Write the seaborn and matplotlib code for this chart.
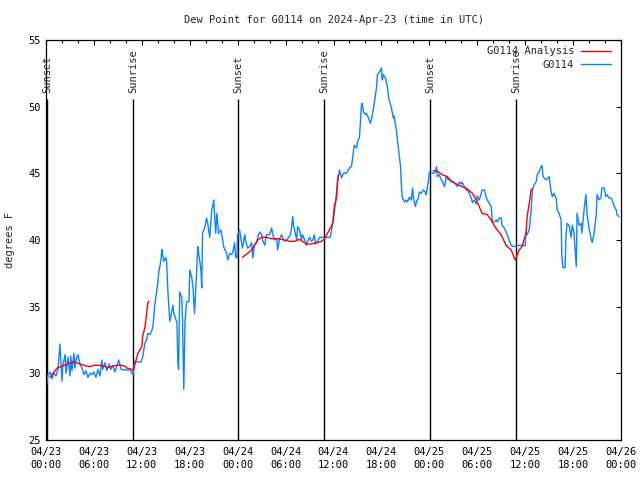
import matplotlib
matplotlib.use("Agg")
import matplotlib.pyplot as plt
import matplotlib.dates as mdates
from matplotlib.lines import Line2D
import seaborn as sns
import pandas as pd

START = pd.Timestamp("2024-04-23 00:00")

# observed dew point, hours after START
obs_hours = [
    0.0, 0.25, 0.5, 0.75, 1.0, 1.25, 1.5, 1.75, 1.9, 2.0, 2.1, 2.4, 2.5, 2.75, 3.0, 3.1,
    3.25, 3.5, 3.6, 3.75, 4.0, 4.25, 4.5, 4.75, 5.0, 5.25, 5.5, 5.75, 6.0, 6.25, 6.5, 6.75,
    7.0, 7.1, 7.4, 7.6, 7.9, 8.1, 8.4, 8.6, 8.9, 9.1, 9.4, 9.9, 10.5, 10.9, 11.1, 11.4,
    11.9, 12.1, 12.4, 12.6, 12.75, 13.0, 13.25, 13.4, 13.6, 13.75, 14.0, 14.1, 14.4, 14.5,
    14.6, 14.75, 15.0, 15.1, 15.25, 15.5, 15.6, 15.9, 16.0, 16.4, 16.5, 16.6, 16.75, 17.0,
    17.1, 17.25, 17.4, 17.6, 17.9, 18.0, 18.25, 18.4, 18.6, 18.75, 19.0, 19.1, 19.4, 19.5,
    19.6, 19.9, 20.1, 20.25, 20.5, 20.75, 20.9, 21.0, 21.25, 21.4, 21.6, 21.9, 22.1, 22.25,
    22.6, 22.75, 23.0, 23.25, 23.4, 23.6, 23.75, 23.9, 24.0, 24.25, 24.4, 24.6, 24.9, 25.0,
    25.25, 25.5, 25.75, 25.9, 26.1, 26.4, 26.5, 26.75, 27.0, 27.1, 27.4, 27.6, 28.0, 28.25,
    28.4, 28.6, 28.9, 29.0, 29.25, 29.5, 29.75, 29.9, 30.1, 30.4, 30.6, 30.75, 30.9, 31.0,
    31.25, 31.4, 31.5, 31.75, 32.0, 32.1, 32.4, 32.6, 32.75, 33.0, 33.25, 33.4, 33.6, 33.75,
    34.0, 34.25, 34.9, 35.6, 35.9, 36.1, 36.4, 36.5, 36.75, 37.0, 37.25, 37.6, 38.0, 38.25,
    38.4, 38.6, 38.9, 39.0, 39.25, 39.5, 39.6, 39.75, 40.0, 40.1, 40.4, 40.6, 40.75, 40.9,
    41.1, 41.4, 41.5, 41.75, 42.0, 42.1, 42.25, 42.5, 42.75, 42.9, 43.1, 43.25, 43.5, 43.6,
    43.9, 44.1, 44.4, 44.5, 44.6, 44.9, 45.1, 45.25, 45.5, 45.75, 45.9, 46.0, 46.25, 46.4,
    46.6, 46.75, 47.0, 47.25, 47.5, 47.6, 47.9, 48.0, 48.25, 48.5, 48.75, 48.9, 49.0, 49.25,
    49.5, 49.6, 49.9, 50.1, 50.4, 50.5, 50.75, 51.0, 51.25, 51.4, 51.5, 51.75, 52.0, 52.1,
    52.4, 52.6, 52.75, 53.0, 53.25, 53.4, 53.6, 53.9, 54.0, 54.25, 54.5, 54.6, 54.9, 55.1,
    55.25, 55.5, 55.75, 55.9, 56.1, 56.4, 56.5, 56.75, 57.0, 57.1, 57.4, 57.6, 57.75, 58.0,
    58.25, 58.5, 58.75, 59.25, 59.75, 60.0, 60.1, 60.25, 60.5, 60.75, 60.9, 61.1, 61.4, 61.5,
    61.75, 61.9, 62.1, 62.25, 62.6, 62.75, 63.0, 63.25, 63.4, 63.6, 63.9, 64.0, 64.25, 64.5,
    64.6, 64.75, 65.0, 65.1, 65.25, 65.5, 65.75, 65.9, 66.1, 66.4, 66.5, 66.75, 67.0, 67.1,
    67.4, 67.6, 67.75, 68.0, 68.25, 68.4, 68.6, 68.9, 69.0, 69.25, 69.5, 69.6, 69.9, 70.1,
    70.25, 70.5, 70.75, 70.9, 71.1, 71.4, 71.5, 71.75,
]
obs_dew = [
    28.8, 29.9, 30.1, 29.6, 30.0, 29.8, 30.3, 32.2, 30.5, 29.4, 30.6, 31.4, 30.0, 31.2, 29.8, 31.3,
    30.2, 31.5, 30.4, 31.0, 31.4, 30.7, 30.4, 29.9, 30.2, 29.7, 30.0, 29.9, 30.1, 29.7, 30.3, 29.8,
    31.0, 30.3, 30.8, 30.2, 30.7, 30.3, 30.6, 30.1, 30.6, 31.0, 30.3, 30.25, 30.25, 29.9, 30.9, 30.85,
    30.85, 31.2, 32.3, 32.5, 33.0, 32.9, 33.2, 33.6, 35.0, 35.7, 36.8, 37.5, 38.5, 39.3,
    38.9, 38.4, 38.7, 38.4, 36.3, 33.9, 34.2, 35.1, 34.5, 33.8, 30.9, 30.3, 36.1, 35.7,
    33.8, 28.8, 33.8, 35.35, 35.4, 37.75, 37.2, 36.5, 34.5, 36.25, 39.5, 39.1, 37.75, 36.4,
    40.5, 41.0, 41.65, 41.25, 40.2, 42.25, 42.6, 43.0, 40.5, 42.0, 40.5, 40.75, 40.1, 39.5,
    39.0, 38.5, 39.0, 38.9, 39.1, 39.8, 38.7, 38.65, 40.4, 40.75, 40.1, 39.4, 40.4, 39.9,
    39.4, 39.5, 39.8, 38.65, 39.6, 39.8, 40.2, 40.6, 40.4, 40.0, 39.6, 40.4, 40.4, 40.9,
    40.4, 40.0, 40.1, 39.25, 40.1, 40.4, 40.0, 39.9, 40.0, 40.2, 40.4, 40.9, 41.75, 41.1,
    40.4, 40.0, 41.0, 40.75, 40.0, 40.4, 40.0, 39.6, 39.9, 40.2, 39.9, 40.0, 40.4, 39.7,
    39.9, 40.2, 40.2, 40.2, 41.25, 42.0, 43.75, 44.3, 45.25, 44.65, 45.0, 45.0, 45.4, 45.5,
    46.2, 47.1, 46.9, 47.35, 47.7, 50.1, 50.25, 49.6, 49.4, 49.5, 49.15, 48.75, 49.0, 49.5,
    50.25, 51.5, 52.4, 52.6, 52.9, 52.0, 52.4, 52.15, 51.5, 50.65, 50.25, 49.9, 49.15, 49.3,
    48.1, 47.0, 45.5, 44.1, 43.2, 42.85, 43.0, 42.85, 43.2, 43.0, 43.9, 43.2, 42.5, 42.9,
    43.1, 43.6, 43.5, 43.75, 43.6, 43.4, 44.5, 45.1, 45.1, 45.0, 45.1, 45.5, 44.75, 44.9,
    44.5, 44.4, 44.0, 44.75, 44.5, 44.6, 44.35, 44.4, 44.2, 44.1, 44.0, 44.35, 44.2, 44.35,
    44.0, 43.75, 43.75, 43.5, 43.15, 42.8, 43.0, 42.7, 43.3, 43.0, 43.5, 43.75, 43.75, 43.25,
    43.0, 42.75, 42.5, 41.35, 41.35, 41.5, 41.35, 41.65, 41.65, 41.1, 40.9, 40.6, 40.4, 40.0,
    39.6, 39.5, 39.55, 39.6, 39.6, 39.55, 40.6, 40.4, 40.75, 42.25, 43.75, 44.1, 44.4, 44.9,
    45.1, 45.4, 45.6, 44.75, 44.5, 44.6, 44.75, 43.6, 43.25, 43.5, 43.1, 42.25, 42.0, 41.5,
    38.7, 37.9, 37.95, 40.2, 41.25, 41.1, 40.2, 41.1, 40.6, 38.0, 42.0, 41.1, 41.25, 40.5,
    42.4, 43.4, 41.9, 40.9, 40.1, 39.8, 40.4, 41.9, 43.4, 43.0, 43.2, 43.9, 43.9, 43.25,
    43.4, 43.15, 43.15, 43.0, 42.6, 42.25, 41.9, 41.75,
]

# analysis dew point, three separate runs
ana_hours = [
    0.5, 0.75, 1.4, 2.25, 3.25, 3.5, 4.0, 4.75, 5.5, 6.0, 6.9, 7.5, 7.6, 8.1, 8.75, 9.5,
    10.0, 10.1, 10.75, 10.9, 11.1, 11.4, 11.5, 11.75, 12.0, 12.1, 12.4, 12.6, 12.75, 12.9,
    24.6, 25.25, 25.75, 26.1, 26.5, 27.0, 27.6, 28.25, 29.0, 29.9, 30.5, 31.1, 31.75, 32.1,
    32.6, 33.25, 33.9, 34.5, 34.9, 35.25, 35.6, 35.9, 36.1, 36.4, 36.5, 36.6,
    48.5, 48.9, 49.6, 50.25, 50.9, 51.75, 52.6, 53.4, 53.9, 54.25, 54.6, 55.25, 55.75, 56.1,
    56.5, 57.0, 57.6, 58.25, 58.75, 59.25, 59.6, 60.1, 60.25, 60.6, 60.75, 60.9,
]
ana_dew = [
    29.7, 29.9, 30.4, 30.6, 30.85, 30.85, 30.75, 30.6, 30.5, 30.6, 30.6, 30.5, 30.4, 30.5, 30.6, 30.6,
    30.5, 30.4, 30.3, 30.2, 30.6, 31.25, 31.5, 31.75, 32.0, 32.75, 33.5, 34.5, 35.3, 35.4,
    38.7, 39.0, 39.25, 39.6, 40.0, 40.2, 40.2, 40.1, 40.1, 40.0, 39.9, 39.9, 40.05, 39.9,
    39.7, 39.7, 39.8, 39.9, 40.1, 40.5, 40.9, 41.25, 42.5, 43.2, 44.4, 44.9,
    45.2, 45.2, 44.9, 44.75, 44.35, 44.1, 43.9, 43.5, 43.0, 42.5, 42.0, 41.9, 41.5, 41.1,
    40.75, 40.4, 39.6, 39.25, 38.5, 39.25, 39.5, 40.5, 41.75, 43.1, 43.8, 43.8,
]
ana_run = [1] * 30 + [2] * 26 + [3] * 26

sunset_hours = [0.1, 24.05, 48.08]
sunrise_hours = [10.88, 34.82, 58.85]

BLUE = "#0a84ff"
RED = "#ff0000"
FS = 7.5

obs = pd.DataFrame({"time": START + pd.to_timedelta(obs_hours, unit="h"), "dew": obs_dew})
ana = pd.DataFrame({"time": START + pd.to_timedelta(ana_hours, unit="h"), "dew": ana_dew,
                    "run": ana_run})

sns.set_style("white")
plt.rcParams["font.family"] = ["DejaVu Sans Mono"]
plt.rcParams["font.size"] = FS

fig = plt.figure(figsize=(6.4, 4.8), dpi=100)
ax = fig.add_axes([46 / 640, 40 / 480, 575 / 640, 400 / 480])

sns.lineplot(data=ana, x="time", y="dew", units="run", estimator=None, color=RED,
             linewidth=1.0, legend=False, ax=ax, zorder=3)
sns.lineplot(data=obs, x="time", y="dew", color=BLUE, linewidth=1.0, legend=False,
             ax=ax, zorder=2)

for hours, label in [(sunset_hours, "Sunset"), (sunrise_hours, "Sunrise")]:
    times = START + pd.to_timedelta(hours, unit="h")
    ax.vlines(times, 25, 50.6, color="black", linewidth=1.0, zorder=1)
    for t in times:
        ax.text(t, 51.0, label, rotation=90, ha="center", va="bottom", fontsize=FS)

ax.set_xlim(START, START + pd.Timedelta(hours=72))
ax.set_ylim(25, 55)
ax.set_yticks(range(25, 56, 5))
ax.xaxis.set_major_locator(mdates.HourLocator(byhour=range(0, 24, 6)))
ax.xaxis.set_minor_locator(mdates.HourLocator(byhour=range(0, 24, 2)))
ax.xaxis.set_major_formatter(mdates.DateFormatter("%m/%d\n%H:%M"))
ax.tick_params(which="both", direction="in", top=True, right=True, colors="black",
               labelsize=FS)
ax.tick_params(which="major", length=3.4, width=0.8)
ax.tick_params(which="minor", length=1.8, width=0.8)
ax.tick_params(axis="x", pad=5)
ax.tick_params(axis="y", pad=4)
for lab in ax.get_xticklabels():
    lab.set_linespacing(1.35)
for s in ax.spines.values():
    s.set_color("black")
    s.set_linewidth(0.9)

ax.set_xlabel("")
ax.set_ylabel("degrees F", labelpad=9)
ax.set_title("Dew Point for G0114 on 2024-Apr-23 (time in UTC)", pad=12, fontsize=FS)

# legend text sits left of its sample line, as in the original; it grazes the
# last Sunrise label there too
handles = [Line2D([], [], color=RED, linewidth=1.0), Line2D([], [], color=BLUE, linewidth=1.0)]
ax.legend(handles, ["G0114 Analysis", "G0114"], loc="upper right",
          bbox_to_anchor=(0.982, 0.984), frameon=False, markerfirst=False,
          handlelength=2.8, handletextpad=0.7, labelspacing=0.3, borderaxespad=0,
          borderpad=0, fontsize=FS)

fig.savefig("out.png", dpi=100)
